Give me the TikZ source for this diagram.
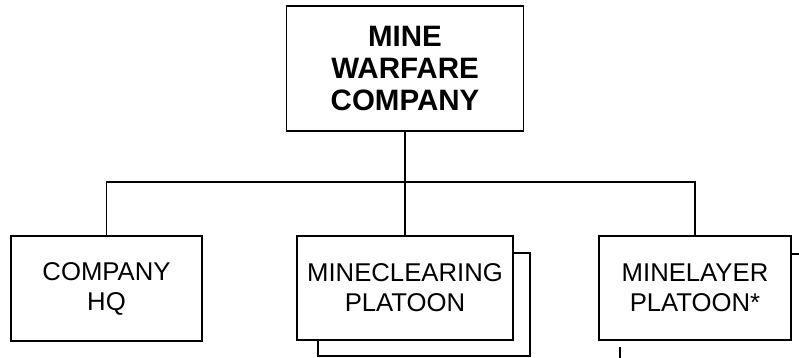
\documentclass[tikz,border=0pt]{standalone}
\usepackage{fontspec}
\setmainfont{Liberation Sans}
\begin{document}
\begin{tikzpicture}[x=1pt,y=-1pt,line width=1.3pt,
  unitbox/.style={draw,rectangle,inner sep=0pt,align=center},
  topfont/.style={font=\fontsize{29.5}{32}\selectfont\bfseries},
  subfont/.style={font=\fontsize{25.7}{30}\selectfont}]
\useasboundingbox (0,0) rectangle (799,358);
% shadow of mineclearing platoon
\draw (513,253) -- (530,253) -- (530,356) -- (318,356) -- (318,340);
% partial shadow lines of minelayer platoon
\draw (791,254) -- (799,254);
\draw (620,347) -- (620,358);
\node[unitbox,topfont,minimum width=237,minimum height=125] (co) at (405,68.5) {MINE\\WARFARE\\COMPANY};
\node[unitbox,subfont,fill=white,minimum width=191,minimum height=105] (hq) at (106.5,288.5) {COMPANY\\HQ};
\node[unitbox,subfont,fill=white,minimum width=216,minimum height=104] (mc) at (405,288) {MINECLEARING\\PLATOON};
\node[unitbox,subfont,fill=white,minimum width=192,minimum height=104] (ml) at (695,288) {MINELAYER\\PLATOON*};
\coordinate (bus) at (405,182);
\draw (co.south) -- (bus);
\draw (hq.north) |- (bus) -| (ml.north);
\draw (bus) -- (mc.north);
\end{tikzpicture}
\end{document}
